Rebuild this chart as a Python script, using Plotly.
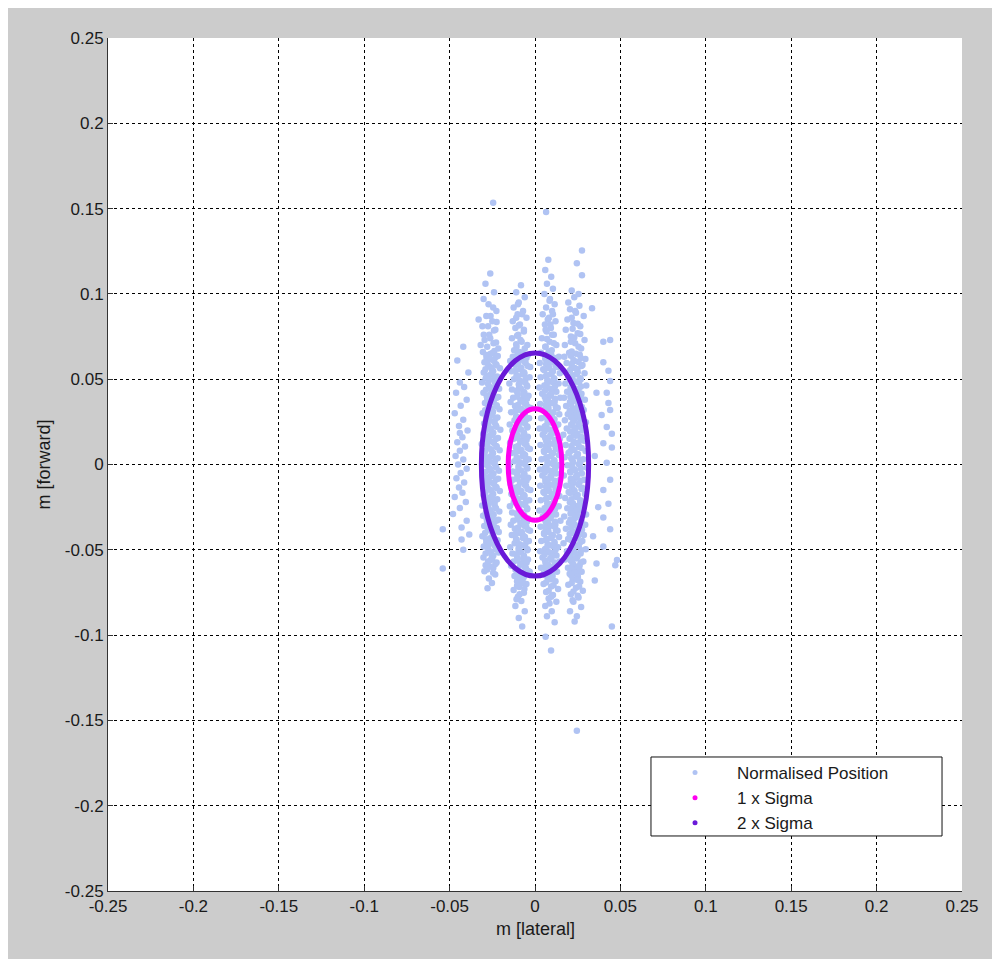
import plotly.graph_objects as go

# ---------------- data ----------------
tick_vals = [-0.25, -0.2, -0.15, -0.1, -0.05, 0, 0.05, 0.1, 0.15, 0.2, 0.25]
tick_text = ["-0.25", "-0.2", "-0.15", "-0.1", "-0.05", "0", "0.05", "0.1", "0.15", "0.2", "0.25"]

sigma_lateral = 0.0157
sigma_forward = 0.0327
sigma_multiples = [1, 2]
sigma_names = ["1 x Sigma", "2 x Sigma"]

col_a = [
    (-0.0262, 0.112), (-0.0290, 0.106), (-0.0240, 0.101), (-0.0301, 0.097), (-0.0272, 0.094), (-0.0226, 0.090),
    (-0.0285, 0.087), (-0.0250, 0.084), (-0.0308, 0.081), (-0.0232, 0.079), (-0.0268, 0.076), (-0.0295, 0.073),
    (-0.0243, 0.071), (-0.0215, 0.068), (-0.0330, 0.085), (-0.0318, 0.070),
    (-0.0305, 0.0660), (-0.0262, 0.0648), (-0.0218, 0.0636), (-0.0284, 0.0624), (-0.0240, 0.0612), (-0.0296, 0.0600), (-0.0228, 0.0588), (-0.0271, 0.0576), (-0.0205, 0.0564), (-0.0250, 0.0552),
    (-0.0300, 0.0540), (-0.0258, 0.0528), (-0.0222, 0.0516), (-0.0289, 0.0504), (-0.0236, 0.0492), (-0.0310, 0.0480), (-0.0231, 0.0468), (-0.0268, 0.0456), (-0.0210, 0.0444), (-0.0252, 0.0432),
    (-0.0302, 0.0420), (-0.0265, 0.0408), (-0.0215, 0.0396), (-0.0280, 0.0384), (-0.0244, 0.0372), (-0.0293, 0.0360), (-0.0225, 0.0348), (-0.0274, 0.0336), (-0.0208, 0.0324), (-0.0247, 0.0312),
    (-0.0307, 0.0300), (-0.0260, 0.0288), (-0.0220, 0.0276), (-0.0286, 0.0264), (-0.0238, 0.0252), (-0.0298, 0.0240), (-0.0229, 0.0228), (-0.0270, 0.0216), (-0.0203, 0.0204), (-0.0254, 0.0192),
    (-0.0303, 0.0180), (-0.0263, 0.0168), (-0.0217, 0.0156), (-0.0282, 0.0144), (-0.0242, 0.0132), (-0.0312, 0.0120), (-0.0226, 0.0108), (-0.0276, 0.0096), (-0.0207, 0.0084), (-0.0249, 0.0072),
    (-0.0299, 0.0060), (-0.0259, 0.0048), (-0.0219, 0.0036), (-0.0287, 0.0024), (-0.0237, 0.0012), (-0.0304, 0.0000), (-0.0230, -0.0012), (-0.0267, -0.0024), (-0.0211, -0.0036), (-0.0253, -0.0048),
    (-0.0306, -0.0060), (-0.0264, -0.0072), (-0.0216, -0.0084), (-0.0283, -0.0096), (-0.0241, -0.0108), (-0.0295, -0.0120), (-0.0227, -0.0132), (-0.0273, -0.0144), (-0.0206, -0.0156), (-0.0248, -0.0168),
    (-0.0301, -0.0180), (-0.0261, -0.0192), (-0.0221, -0.0204), (-0.0288, -0.0216), (-0.0239, -0.0228), (-0.0309, -0.0240), (-0.0232, -0.0252), (-0.0269, -0.0264), (-0.0209, -0.0276), (-0.0251, -0.0288),
    (-0.0304, -0.0300), (-0.0257, -0.0312), (-0.0214, -0.0324), (-0.0281, -0.0336), (-0.0245, -0.0348), (-0.0297, -0.0360), (-0.0224, -0.0372), (-0.0275, -0.0384), (-0.0212, -0.0396), (-0.0246, -0.0408),
    (-0.0308, -0.0420), (-0.0263, -0.0432), (-0.0219, -0.0444), (-0.0285, -0.0456), (-0.0235, -0.0468), (-0.0300, -0.0480), (-0.0228, -0.0492), (-0.0272, -0.0504), (-0.0213, -0.0516), (-0.0255, -0.0528),
    (-0.0302, -0.0545), (-0.0260, -0.0560), (-0.0225, -0.0575), (-0.0289, -0.0590), (-0.0244, -0.0605), (-0.0296, -0.0625), (-0.0233, -0.0645), (-0.0270, -0.0668), (-0.0252, -0.0695), (-0.0278, -0.0725),
]

col_a_2 = [
    (-0.0238, 0.0665), (-0.0280, 0.0690), (-0.0228, 0.0715), (-0.0262, 0.0740), (-0.0300, 0.0760), (-0.0240, 0.0785),
    (-0.0275, 0.0810), (-0.0225, 0.0835), (-0.0260, 0.0870), (-0.0245, 0.0920),
    (-0.0250, 0.0654), (-0.0285, 0.0642), (-0.0230, 0.0630), (-0.0265, 0.0618), (-0.0240, 0.0606), (-0.0278, 0.0594), (-0.0225, 0.0582), (-0.0258, 0.0570), (-0.0290, 0.0558), (-0.0245, 0.0546),
    (-0.0253, 0.0534), (-0.0281, 0.0522), (-0.0233, 0.0510), (-0.0268, 0.0498), (-0.0237, 0.0486), (-0.0275, 0.0474), (-0.0228, 0.0462), (-0.0261, 0.0450), (-0.0287, 0.0438), (-0.0242, 0.0426),
    (-0.0248, 0.0414), (-0.0283, 0.0402), (-0.0227, 0.0390), (-0.0263, 0.0378), (-0.0243, 0.0366), (-0.0280, 0.0354), (-0.0223, 0.0342), (-0.0256, 0.0330), (-0.0292, 0.0318), (-0.0247, 0.0306),
    (-0.0251, 0.0294), (-0.0286, 0.0282), (-0.0231, 0.0270), (-0.0266, 0.0258), (-0.0238, 0.0246), (-0.0276, 0.0234), (-0.0226, 0.0222), (-0.0259, 0.0210), (-0.0289, 0.0198), (-0.0244, 0.0186),
    (-0.0249, 0.0174), (-0.0282, 0.0162), (-0.0229, 0.0150), (-0.0264, 0.0138), (-0.0241, 0.0126), (-0.0279, 0.0114), (-0.0224, 0.0102), (-0.0257, 0.0090), (-0.0291, 0.0078), (-0.0246, 0.0066),
    (-0.0252, 0.0054), (-0.0284, 0.0042), (-0.0232, 0.0030), (-0.0267, 0.0018), (-0.0239, 0.0006), (-0.0277, -0.0006), (-0.0227, -0.0018), (-0.0260, -0.0030), (-0.0288, -0.0042), (-0.0243, -0.0054),
    (-0.0250, -0.0066), (-0.0285, -0.0078), (-0.0230, -0.0090), (-0.0265, -0.0102), (-0.0240, -0.0114), (-0.0278, -0.0126), (-0.0225, -0.0138), (-0.0258, -0.0150), (-0.0290, -0.0162), (-0.0245, -0.0174),
    (-0.0253, -0.0186), (-0.0281, -0.0198), (-0.0233, -0.0210), (-0.0268, -0.0222), (-0.0237, -0.0234), (-0.0275, -0.0246), (-0.0228, -0.0258), (-0.0261, -0.0270), (-0.0287, -0.0282), (-0.0242, -0.0294),
    (-0.0248, -0.0306), (-0.0283, -0.0318), (-0.0227, -0.0330), (-0.0263, -0.0342), (-0.0243, -0.0354), (-0.0280, -0.0366), (-0.0223, -0.0378), (-0.0256, -0.0390), (-0.0292, -0.0402), (-0.0247, -0.0414),
    (-0.0251, -0.0426), (-0.0286, -0.0438), (-0.0231, -0.0450), (-0.0266, -0.0462), (-0.0238, -0.0474), (-0.0276, -0.0486), (-0.0226, -0.0498), (-0.0259, -0.0510), (-0.0289, -0.0522), (-0.0244, -0.0534),
    (-0.0250, -0.0552), (-0.0275, -0.0568), (-0.0232, -0.0583), (-0.0262, -0.0598), (-0.0280, -0.0615), (-0.0245, -0.0635),
]

col_b = [
    (-0.0082, 0.105), (-0.0110, 0.101), (-0.0060, 0.098), (-0.0095, 0.095), (-0.0125, 0.092), (-0.0070, 0.090),
    (-0.0102, 0.088), (-0.0050, 0.086), (-0.0130, 0.084), (-0.0088, 0.082), (-0.0115, 0.080), (-0.0065, 0.078),
    (-0.0098, 0.076), (-0.0135, 0.074), (-0.0078, 0.072), (-0.0045, 0.070), (-0.0108, 0.069), (-0.0122, 0.067),
    (-0.0100, 0.0655), (-0.0040, 0.0643), (-0.0130, 0.0631), (-0.0070, 0.0619), (-0.0145, 0.0607), (-0.0055, 0.0595), (-0.0115, 0.0583), (-0.0028, 0.0571), (-0.0085, 0.0559), (-0.0138, 0.0547),
    (-0.0062, 0.0535), (-0.0108, 0.0523), (-0.0032, 0.0511), (-0.0123, 0.0499), (-0.0078, 0.0487), (-0.0150, 0.0475), (-0.0047, 0.0463), (-0.0093, 0.0451), (-0.0135, 0.0439), (-0.0068, 0.0427),
    (-0.0102, 0.0415), (-0.0038, 0.0403), (-0.0128, 0.0391), (-0.0073, 0.0379), (-0.0143, 0.0367), (-0.0052, 0.0355), (-0.0117, 0.0343), (-0.0025, 0.0331), (-0.0087, 0.0319), (-0.0140, 0.0307),
    (-0.0060, 0.0295), (-0.0110, 0.0283), (-0.0035, 0.0271), (-0.0120, 0.0259), (-0.0080, 0.0247), (-0.0148, 0.0235), (-0.0045, 0.0223), (-0.0095, 0.0211), (-0.0133, 0.0199), (-0.0065, 0.0187),
    (-0.0105, 0.0175), (-0.0042, 0.0163), (-0.0126, 0.0151), (-0.0075, 0.0139), (-0.0146, 0.0127), (-0.0050, 0.0115), (-0.0113, 0.0103), (-0.0030, 0.0091), (-0.0090, 0.0079), (-0.0137, 0.0067),
    (-0.0058, 0.0055), (-0.0107, 0.0043), (-0.0037, 0.0031), (-0.0121, 0.0019), (-0.0082, 0.0007), (-0.0151, -0.0005), (-0.0048, -0.0017), (-0.0097, -0.0029), (-0.0131, -0.0041), (-0.0063, -0.0053),
    (-0.0103, -0.0065), (-0.0040, -0.0077), (-0.0129, -0.0089), (-0.0072, -0.0101), (-0.0144, -0.0113), (-0.0053, -0.0125), (-0.0116, -0.0137), (-0.0027, -0.0149), (-0.0086, -0.0161), (-0.0139, -0.0173),
    (-0.0061, -0.0185), (-0.0109, -0.0197), (-0.0034, -0.0209), (-0.0124, -0.0221), (-0.0079, -0.0233), (-0.0147, -0.0245), (-0.0046, -0.0257), (-0.0094, -0.0269), (-0.0134, -0.0281), (-0.0067, -0.0293),
    (-0.0101, -0.0305), (-0.0039, -0.0317), (-0.0127, -0.0329), (-0.0074, -0.0341), (-0.0142, -0.0353), (-0.0051, -0.0365), (-0.0118, -0.0377), (-0.0029, -0.0389), (-0.0088, -0.0401), (-0.0136, -0.0413),
    (-0.0059, -0.0425), (-0.0111, -0.0437), (-0.0036, -0.0449), (-0.0119, -0.0461), (-0.0081, -0.0473), (-0.0145, -0.0485), (-0.0044, -0.0497), (-0.0096, -0.0509), (-0.0132, -0.0521), (-0.0066, -0.0533),
    (-0.0104, -0.0545), (-0.0041, -0.0557), (-0.0125, -0.0569), (-0.0076, -0.0581), (-0.0140, -0.0593), (-0.0054, -0.0605), (-0.0114, -0.0617), (-0.0031, -0.0629), (-0.0089, -0.0641), (-0.0120, -0.0653),
    (-0.0070, -0.0668), (-0.0105, -0.0685), (-0.0050, -0.0700), (-0.0092, -0.0718), (-0.0125, -0.0735), (-0.0065, -0.0752),
    (-0.0100, -0.0775), (-0.0080, -0.0800), (-0.0115, -0.0830), (-0.0060, -0.0860), (-0.0095, -0.0900), (-0.0075, -0.0950),
]

col_b_2 = [
    (-0.0090, 0.0660), (-0.0060, 0.0680), (-0.0110, 0.0705), (-0.0085, 0.0730), (-0.0105, 0.0755), (-0.0065, 0.0790),
    (-0.0095, 0.0815), (-0.0110, 0.0860), (-0.0075, 0.0880), (-0.0100, 0.0940),
    (-0.0070, 0.0649), (-0.0105, 0.0637), (-0.0050, 0.0625), (-0.0088, 0.0613), (-0.0060, 0.0601), (-0.0098, 0.0589), (-0.0043, 0.0577), (-0.0080, 0.0565), (-0.0112, 0.0553), (-0.0065, 0.0541),
    (-0.0073, 0.0529), (-0.0101, 0.0517), (-0.0053, 0.0505), (-0.0091, 0.0493), (-0.0057, 0.0481), (-0.0095, 0.0469), (-0.0046, 0.0457), (-0.0083, 0.0445), (-0.0109, 0.0433), (-0.0062, 0.0421),
    (-0.0068, 0.0409), (-0.0103, 0.0397), (-0.0047, 0.0385), (-0.0085, 0.0373), (-0.0063, 0.0361), (-0.0100, 0.0349), (-0.0041, 0.0337), (-0.0077, 0.0325), (-0.0114, 0.0313), (-0.0067, 0.0301),
    (-0.0071, 0.0289), (-0.0107, 0.0277), (-0.0051, 0.0265), (-0.0090, 0.0253), (-0.0058, 0.0241), (-0.0096, 0.0229), (-0.0045, 0.0217), (-0.0082, 0.0205), (-0.0110, 0.0193), (-0.0064, 0.0181),
    (-0.0069, 0.0169), (-0.0102, 0.0157), (-0.0049, 0.0145), (-0.0086, 0.0133), (-0.0061, 0.0121), (-0.0099, 0.0109), (-0.0042, 0.0097), (-0.0079, 0.0085), (-0.0113, 0.0073), (-0.0066, 0.0061),
    (-0.0072, 0.0049), (-0.0104, 0.0037), (-0.0052, 0.0025), (-0.0089, 0.0013), (-0.0059, 0.0001), (-0.0097, -0.0011), (-0.0044, -0.0023), (-0.0081, -0.0035), (-0.0111, -0.0047), (-0.0063, -0.0059),
    (-0.0070, -0.0071), (-0.0105, -0.0083), (-0.0050, -0.0095), (-0.0088, -0.0107), (-0.0060, -0.0119), (-0.0098, -0.0131), (-0.0043, -0.0143), (-0.0080, -0.0155), (-0.0112, -0.0167), (-0.0065, -0.0179),
    (-0.0073, -0.0191), (-0.0101, -0.0203), (-0.0053, -0.0215), (-0.0091, -0.0227), (-0.0057, -0.0239), (-0.0095, -0.0251), (-0.0046, -0.0263), (-0.0083, -0.0275), (-0.0109, -0.0287), (-0.0062, -0.0299),
    (-0.0068, -0.0311), (-0.0103, -0.0323), (-0.0047, -0.0335), (-0.0085, -0.0347), (-0.0063, -0.0359), (-0.0100, -0.0371), (-0.0041, -0.0383), (-0.0077, -0.0395), (-0.0114, -0.0407), (-0.0067, -0.0419),
    (-0.0071, -0.0431), (-0.0107, -0.0443), (-0.0051, -0.0455), (-0.0090, -0.0467), (-0.0058, -0.0479), (-0.0096, -0.0491), (-0.0045, -0.0503), (-0.0082, -0.0515), (-0.0110, -0.0527), (-0.0064, -0.0539),
    (-0.0069, -0.0551), (-0.0102, -0.0563), (-0.0049, -0.0575), (-0.0086, -0.0587), (-0.0061, -0.0599), (-0.0099, -0.0611), (-0.0042, -0.0623), (-0.0079, -0.0635), (-0.0108, -0.0647), (-0.0066, -0.0660),
    (-0.0100, -0.0672), (-0.0075, -0.0695), (-0.0105, -0.0710), (-0.0062, -0.0730), (-0.0090, -0.0760), (-0.0108, -0.0790),
]

col_c = [
    (0.0078, 0.120), (0.0060, 0.114), (0.0095, 0.110), (0.0070, 0.106), (0.0105, 0.103), (0.0055, 0.100), (0.0088, 0.097),
    (0.0115, 0.094), (0.0065, 0.092), (0.0100, 0.090), (0.0045, 0.088), (0.0082, 0.086), (0.0120, 0.084), (0.0058, 0.082),
    (0.0093, 0.080), (0.0068, 0.078), (0.0110, 0.076), (0.0040, 0.074), (0.0085, 0.072), (0.0125, 0.070), (0.0062, 0.069), (0.0098, 0.067),
    (0.0035, 0.0655), (0.0095, 0.0643), (0.0140, 0.0631), (0.0060, 0.0619), (0.0118, 0.0607), (0.0028, 0.0595), (0.0080, 0.0583), (0.0130, 0.0571), (0.0048, 0.0559), (0.0105, 0.0547),
    (0.0145, 0.0535), (0.0070, 0.0523), (0.0033, 0.0511), (0.0112, 0.0499), (0.0088, 0.0487), (0.0138, 0.0475), (0.0055, 0.0463), (0.0025, 0.0451), (0.0100, 0.0439), (0.0125, 0.0427),
    (0.0042, 0.0415), (0.0092, 0.0403), (0.0148, 0.0391), (0.0063, 0.0379), (0.0115, 0.0367), (0.0030, 0.0355), (0.0078, 0.0343), (0.0133, 0.0331), (0.0050, 0.0319), (0.0108, 0.0307),
    (0.0142, 0.0295), (0.0068, 0.0283), (0.0036, 0.0271), (0.0110, 0.0259), (0.0085, 0.0247), (0.0136, 0.0235), (0.0057, 0.0223), (0.0027, 0.0211), (0.0097, 0.0199), (0.0122, 0.0187),
    (0.0045, 0.0175), (0.0090, 0.0163), (0.0146, 0.0151), (0.0065, 0.0139), (0.0117, 0.0127), (0.0032, 0.0115), (0.0076, 0.0103), (0.0131, 0.0091), (0.0052, 0.0079), (0.0106, 0.0067),
    (0.0140, 0.0055), (0.0072, 0.0043), (0.0038, 0.0031), (0.0113, 0.0019), (0.0083, 0.0007), (0.0137, -0.0005), (0.0059, -0.0017), (0.0029, -0.0029), (0.0099, -0.0041), (0.0124, -0.0053),
    (0.0043, -0.0065), (0.0093, -0.0077), (0.0147, -0.0089), (0.0061, -0.0101), (0.0116, -0.0113), (0.0031, -0.0125), (0.0079, -0.0137), (0.0134, -0.0149), (0.0049, -0.0161), (0.0107, -0.0173),
    (0.0143, -0.0185), (0.0069, -0.0197), (0.0034, -0.0209), (0.0111, -0.0221), (0.0087, -0.0233), (0.0139, -0.0245), (0.0056, -0.0257), (0.0026, -0.0269), (0.0101, -0.0281), (0.0123, -0.0293),
    (0.0046, -0.0305), (0.0091, -0.0317), (0.0149, -0.0329), (0.0064, -0.0341), (0.0119, -0.0353), (0.0033, -0.0365), (0.0077, -0.0377), (0.0132, -0.0389), (0.0053, -0.0401), (0.0104, -0.0413),
    (0.0141, -0.0425), (0.0071, -0.0437), (0.0037, -0.0449), (0.0114, -0.0461), (0.0084, -0.0473), (0.0135, -0.0485), (0.0058, -0.0497), (0.0030, -0.0509), (0.0096, -0.0521), (0.0126, -0.0533),
    (0.0044, -0.0545), (0.0094, -0.0557), (0.0144, -0.0569), (0.0062, -0.0581), (0.0118, -0.0593), (0.0035, -0.0605), (0.0081, -0.0617), (0.0129, -0.0629), (0.0051, -0.0641), (0.0103, -0.0653),
    (0.0075, -0.0668), (0.0120, -0.0685), (0.0050, -0.0700), (0.0095, -0.0715), (0.0135, -0.0730), (0.0065, -0.0748), (0.0105, -0.0765),
    (0.0080, -0.0785), (0.0125, -0.0805), (0.0060, -0.0830), (0.0098, -0.0860), (0.0070, -0.0890), (0.0115, -0.0925), (0.0062, -0.1010), (0.0094, -0.1090),
]

col_c_2 = [
    (0.0080, 0.0662), (0.0060, 0.0690), (0.0110, 0.0710), (0.0070, 0.0735), (0.0100, 0.0760), (0.0062, 0.0790),
    (0.0090, 0.0820), (0.0075, 0.0850), (0.0105, 0.0880), (0.0085, 0.0960),
    (0.0090, 0.0649), (0.0060, 0.0637), (0.0115, 0.0625), (0.0075, 0.0613), (0.0105, 0.0601), (0.0065, 0.0589), (0.0120, 0.0577), (0.0082, 0.0565), (0.0055, 0.0553), (0.0100, 0.0541),
    (0.0093, 0.0529), (0.0063, 0.0517), (0.0112, 0.0505), (0.0072, 0.0493), (0.0108, 0.0481), (0.0068, 0.0469), (0.0117, 0.0457), (0.0085, 0.0445), (0.0058, 0.0433), (0.0097, 0.0421),
    (0.0087, 0.0409), (0.0057, 0.0397), (0.0118, 0.0385), (0.0078, 0.0373), (0.0102, 0.0361), (0.0062, 0.0349), (0.0122, 0.0337), (0.0079, 0.0325), (0.0053, 0.0313), (0.0103, 0.0301),
    (0.0091, 0.0289), (0.0061, 0.0277), (0.0114, 0.0265), (0.0074, 0.0253), (0.0106, 0.0241), (0.0066, 0.0229), (0.0119, 0.0217), (0.0083, 0.0205), (0.0056, 0.0193), (0.0099, 0.0181),
    (0.0089, 0.0169), (0.0059, 0.0157), (0.0116, 0.0145), (0.0076, 0.0133), (0.0104, 0.0121), (0.0064, 0.0109), (0.0121, 0.0097), (0.0081, 0.0085), (0.0054, 0.0073), (0.0101, 0.0061),
    (0.0092, 0.0049), (0.0062, 0.0037), (0.0113, 0.0025), (0.0073, 0.0013), (0.0107, 0.0001), (0.0067, -0.0011), (0.0118, -0.0023), (0.0084, -0.0035), (0.0057, -0.0047), (0.0098, -0.0059),
    (0.0090, -0.0071), (0.0060, -0.0083), (0.0115, -0.0095), (0.0075, -0.0107), (0.0105, -0.0119), (0.0065, -0.0131), (0.0120, -0.0143), (0.0082, -0.0155), (0.0055, -0.0167), (0.0100, -0.0179),
    (0.0093, -0.0191), (0.0063, -0.0203), (0.0112, -0.0215), (0.0072, -0.0227), (0.0108, -0.0239), (0.0068, -0.0251), (0.0117, -0.0263), (0.0085, -0.0275), (0.0058, -0.0287), (0.0097, -0.0299),
    (0.0087, -0.0311), (0.0057, -0.0323), (0.0118, -0.0335), (0.0078, -0.0347), (0.0102, -0.0359), (0.0062, -0.0371), (0.0122, -0.0383), (0.0079, -0.0395), (0.0053, -0.0407), (0.0103, -0.0419),
    (0.0091, -0.0431), (0.0061, -0.0443), (0.0114, -0.0455), (0.0074, -0.0467), (0.0106, -0.0479), (0.0066, -0.0491), (0.0119, -0.0503), (0.0083, -0.0515), (0.0056, -0.0527), (0.0099, -0.0539),
    (0.0089, -0.0551), (0.0059, -0.0563), (0.0116, -0.0575), (0.0076, -0.0587), (0.0104, -0.0599), (0.0064, -0.0611), (0.0112, -0.0623), (0.0081, -0.0635), (0.0058, -0.0647), (0.0100, -0.0660),
    (0.0090, -0.0672), (0.0065, -0.0692), (0.0108, -0.0708), (0.0080, -0.0740), (0.0095, -0.0775), (0.0085, -0.0815),
]

col_d = [
    (0.0275, 0.1255), (0.0245, 0.1180), (0.0275, 0.1110), (0.0215, 0.1020), (0.0230, 0.0980), (0.0195, 0.0950), (0.0260, 0.0930),
    (0.0205, 0.0910), (0.0240, 0.0890), (0.0285, 0.0870), (0.0190, 0.0850), (0.0225, 0.0830), (0.0265, 0.0810), (0.0180, 0.0790),
    (0.0250, 0.0770), (0.0210, 0.0750), (0.0290, 0.0730), (0.0235, 0.0710), (0.0175, 0.0700), (0.0270, 0.0680),
    (0.0200, 0.0655), (0.0262, 0.0643), (0.0172, 0.0631), (0.0295, 0.0619), (0.0230, 0.0607), (0.0185, 0.0595), (0.0278, 0.0583), (0.0215, 0.0571), (0.0248, 0.0559), (0.0168, 0.0547),
    (0.0290, 0.0535), (0.0222, 0.0523), (0.0195, 0.0511), (0.0268, 0.0499), (0.0240, 0.0487), (0.0178, 0.0475), (0.0300, 0.0463), (0.0208, 0.0451), (0.0255, 0.0439), (0.0188, 0.0427),
    (0.0272, 0.0415), (0.0228, 0.0403), (0.0170, 0.0391), (0.0292, 0.0379), (0.0205, 0.0367), (0.0260, 0.0355), (0.0182, 0.0343), (0.0245, 0.0331), (0.0285, 0.0319), (0.0218, 0.0307),
    (0.0192, 0.0295), (0.0265, 0.0283), (0.0235, 0.0271), (0.0175, 0.0259), (0.0298, 0.0247), (0.0212, 0.0235), (0.0252, 0.0223), (0.0186, 0.0211), (0.0280, 0.0199), (0.0225, 0.0187),
    (0.0166, 0.0175), (0.0270, 0.0163), (0.0202, 0.0151), (0.0288, 0.0139), (0.0238, 0.0127), (0.0180, 0.0115), (0.0258, 0.0103), (0.0214, 0.0091), (0.0296, 0.0079), (0.0196, 0.0067),
    (0.0250, 0.0055), (0.0174, 0.0043), (0.0282, 0.0031), (0.0220, 0.0019), (0.0264, 0.0007), (0.0190, -0.0005), (0.0302, -0.0017), (0.0232, -0.0029), (0.0206, -0.0041), (0.0274, -0.0053),
    (0.0169, -0.0065), (0.0244, -0.0077), (0.0289, -0.0089), (0.0210, -0.0101), (0.0256, -0.0113), (0.0183, -0.0125), (0.0276, -0.0137), (0.0226, -0.0149), (0.0197, -0.0161), (0.0293, -0.0173),
    (0.0236, -0.0185), (0.0177, -0.0197), (0.0266, -0.0209), (0.0204, -0.0221), (0.0284, -0.0233), (0.0242, -0.0245), (0.0189, -0.0257), (0.0259, -0.0269), (0.0216, -0.0281), (0.0299, -0.0293),
    (0.0171, -0.0305), (0.0229, -0.0317), (0.0271, -0.0329), (0.0199, -0.0341), (0.0294, -0.0353), (0.0247, -0.0365), (0.0181, -0.0377), (0.0263, -0.0389), (0.0213, -0.0401), (0.0286, -0.0413),
    (0.0239, -0.0425), (0.0194, -0.0437), (0.0277, -0.0449), (0.0167, -0.0461), (0.0253, -0.0473), (0.0223, -0.0485), (0.0297, -0.0497), (0.0187, -0.0509), (0.0267, -0.0521), (0.0209, -0.0533),
    (0.0245, -0.0545), (0.0176, -0.0557), (0.0283, -0.0569), (0.0219, -0.0581), (0.0261, -0.0593), (0.0193, -0.0605), (0.0234, -0.0617), (0.0273, -0.0629), (0.0203, -0.0641), (0.0250, -0.0653),
    (0.0220, -0.0670), (0.0265, -0.0688), (0.0195, -0.0705), (0.0240, -0.0722), (0.0280, -0.0740), (0.0210, -0.0760),
    (0.0255, -0.0780), (0.0225, -0.0805), (0.0270, -0.0835), (0.0205, -0.0860), (0.0245, -0.0890), (0.0232, -0.0920),
]

col_d_2 = [
    (0.0215, 0.0662), (0.0255, 0.0690), (0.0210, 0.0720), (0.0230, 0.0745), (0.0265, 0.0765), (0.0220, 0.0795),
    (0.0250, 0.0825), (0.0215, 0.0860), (0.0235, 0.0900), (0.0255, 0.1000),
    (0.0240, 0.0649), (0.0210, 0.0637), (0.0268, 0.0625), (0.0225, 0.0613), (0.0255, 0.0601), (0.0215, 0.0589), (0.0272, 0.0577), (0.0232, 0.0565), (0.0205, 0.0553), (0.0250, 0.0541),
    (0.0243, 0.0529), (0.0213, 0.0517), (0.0265, 0.0505), (0.0222, 0.0493), (0.0258, 0.0481), (0.0218, 0.0469), (0.0269, 0.0457), (0.0235, 0.0445), (0.0208, 0.0433), (0.0247, 0.0421),
    (0.0237, 0.0409), (0.0207, 0.0397), (0.0271, 0.0385), (0.0228, 0.0373), (0.0252, 0.0361), (0.0212, 0.0349), (0.0275, 0.0337), (0.0229, 0.0325), (0.0203, 0.0313), (0.0253, 0.0301),
    (0.0241, 0.0289), (0.0211, 0.0277), (0.0266, 0.0265), (0.0224, 0.0253), (0.0256, 0.0241), (0.0216, 0.0229), (0.0270, 0.0217), (0.0233, 0.0205), (0.0206, 0.0193), (0.0249, 0.0181),
    (0.0239, 0.0169), (0.0209, 0.0157), (0.0267, 0.0145), (0.0226, 0.0133), (0.0254, 0.0121), (0.0214, 0.0109), (0.0273, 0.0097), (0.0231, 0.0085), (0.0204, 0.0073), (0.0251, 0.0061),
    (0.0242, 0.0049), (0.0212, 0.0037), (0.0264, 0.0025), (0.0223, 0.0013), (0.0257, 0.0001), (0.0217, -0.0011), (0.0268, -0.0023), (0.0234, -0.0035), (0.0207, -0.0047), (0.0248, -0.0059),
    (0.0240, -0.0071), (0.0210, -0.0083), (0.0268, -0.0095), (0.0225, -0.0107), (0.0255, -0.0119), (0.0215, -0.0131), (0.0272, -0.0143), (0.0232, -0.0155), (0.0205, -0.0167), (0.0250, -0.0179),
    (0.0243, -0.0191), (0.0213, -0.0203), (0.0265, -0.0215), (0.0222, -0.0227), (0.0258, -0.0239), (0.0218, -0.0251), (0.0269, -0.0263), (0.0235, -0.0275), (0.0208, -0.0287), (0.0247, -0.0299),
    (0.0237, -0.0311), (0.0207, -0.0323), (0.0271, -0.0335), (0.0228, -0.0347), (0.0252, -0.0359), (0.0212, -0.0371), (0.0275, -0.0383), (0.0229, -0.0395), (0.0203, -0.0407), (0.0253, -0.0419),
    (0.0241, -0.0431), (0.0211, -0.0443), (0.0266, -0.0455), (0.0224, -0.0467), (0.0256, -0.0479), (0.0216, -0.0491), (0.0270, -0.0503), (0.0233, -0.0515), (0.0206, -0.0527), (0.0249, -0.0539),
    (0.0239, -0.0551), (0.0209, -0.0563), (0.0267, -0.0575), (0.0226, -0.0587), (0.0254, -0.0599), (0.0214, -0.0611), (0.0262, -0.0623), (0.0231, -0.0635), (0.0210, -0.0647), (0.0251, -0.0660),
    (0.0245, -0.0675), (0.0215, -0.0695), (0.0258, -0.0715), (0.0225, -0.0745), (0.0250, -0.0770), (0.0220, -0.0795),
]

col_left = [
    (-0.0420, 0.0690), (-0.0455, 0.0610), (-0.0390, 0.0540), (-0.0440, 0.0480), (-0.0415, 0.0455), (-0.0462, 0.0420),
    (-0.0400, 0.0380), (-0.0435, 0.0345), (-0.0470, 0.0300), (-0.0420, 0.0262), (-0.0445, 0.0225), (-0.0395, 0.0200),
    (-0.0440, 0.0185), (-0.0425, 0.0160), (-0.0455, 0.0130), (-0.0410, 0.0105), (-0.0440, 0.0080), (-0.0465, 0.0050),
    (-0.0420, 0.0030), (-0.0450, 0.0000), (-0.0400, -0.0025), (-0.0435, -0.0050), (-0.0460, -0.0080), (-0.0415, -0.0105),
    (-0.0445, -0.0135), (-0.0425, -0.0165), (-0.0470, -0.0190), (-0.0405, -0.0220), (-0.0440, -0.0255), (-0.0400, -0.0330),
    (-0.0430, -0.0370), (-0.0540, -0.0380), (-0.0430, -0.0440), (-0.0420, -0.0500), (-0.0540, -0.0610), (-0.0480, -0.0290),
    (-0.0385, -0.0410),
]

col_right = [
    (0.0400, 0.0720), (0.0440, 0.0730), (0.0334, 0.0916), (0.0400, 0.0600), (0.0430, 0.0550), (0.0440, 0.0490),
    (0.0420, 0.0420), (0.0360, 0.0420), (0.0430, 0.0360), (0.0440, 0.0320), (0.0390, 0.0290), (0.0420, 0.0220),
    (0.0450, 0.0180), (0.0400, 0.0125), (0.0450, 0.0100), (0.0420, 0.0010), (0.0440, -0.0090), (0.0400, -0.0150),
    (0.0430, -0.0230), (0.0400, -0.0310), (0.0440, -0.0380), (0.0400, -0.0480), (0.0470, -0.0590), (0.0360, -0.0580),
    (0.0450, -0.0950), (0.0350, -0.0680), (0.0480, -0.0560), (0.0370, -0.0250), (0.0350, 0.0050), (0.0340, -0.0420),
]

outliers = [(-0.0245, 0.1535), (0.0065, 0.1480), (0.0245, -0.1560)]

# ---------------- figure ----------------
point_color = "#b0c3f3"
sigma_colors = ["#ff00f0", "#6a1ad8"]
font_family = "Liberation Sans, Arial, sans-serif"

all_points = (col_a + col_a_2 + col_b + col_b_2 + col_c + col_c_2 + col_d + col_d_2
              + col_left + col_right + outliers)
px = [p[0] for p in all_points]
py = [p[1] for p in all_points]

fig = go.Figure()
fig.add_trace(go.Scatter(
    x=px, y=py, mode="markers", showlegend=False, hoverinfo="skip",
    marker=dict(size=6.5, color=point_color, line=dict(width=0)),
))

# legend entries (dot markers, as in the original)
fig.add_trace(go.Scatter(x=[None], y=[None], mode="markers", name="Normalised Position",
                         marker=dict(size=5, color=point_color)))
for name, col in zip(sigma_names, sigma_colors):
    fig.add_trace(go.Scatter(x=[None], y=[None], mode="markers", name=name,
                             marker=dict(size=5, color=col)))

shapes = []
for k, col in zip(sigma_multiples, sigma_colors):
    shapes.append(dict(type="circle", xref="x", yref="y",
                       x0=-k * sigma_lateral, x1=k * sigma_lateral,
                       y0=-k * sigma_forward, y1=k * sigma_forward,
                       line=dict(color=col, width=5), layer="above"))

# legend box
shapes.append(dict(type="rect", xref="paper", yref="paper",
                   x0=0.6358, x1=0.9766, y0=0.0645, y1=0.1571,
                   fillcolor="white", line=dict(color="#111111", width=1), layer="above"))

axis_common = dict(
    range=[-0.25, 0.25], tickmode="array", tickvals=tick_vals, ticktext=tick_text,
    showgrid=True, gridcolor="#000000", gridwidth=1, griddash="3px,3px",
    zeroline=False, showline=True, linecolor="#333333", linewidth=1, mirror=False,
    ticks="inside", ticklen=5, tickcolor="#333333", tickwidth=1,
    tickfont=dict(family=font_family, size=17, color="#1a1a1a"),
)

fig.update_layout(
    width=992, height=951,
    margin=dict(l=100, r=38, t=30, b=68),
    paper_bgcolor="#cccccc", plot_bgcolor="white",
    xaxis=dict(**axis_common),
    yaxis=dict(**axis_common),
    showlegend=True,
    legend=dict(x=0.6382, y=0.1594, xanchor="left", yanchor="top",
                bgcolor="rgba(0,0,0,0)", borderwidth=0, itemwidth=74,
                font=dict(family=font_family, size=17, color="#1a1a1a")),
    shapes=shapes,
    annotations=[
        dict(text="m [lateral]", xref="paper", yref="paper", x=0.5, y=-0.0445,
             xanchor="center", yanchor="middle", showarrow=False,
             font=dict(family=font_family, size=18, color="#1a1a1a")),
        dict(text="m [forward]", xref="paper", yref="paper", x=-0.075, y=0.5,
             xanchor="center", yanchor="middle", showarrow=False, textangle=-90,
             font=dict(family=font_family, size=18, color="#1a1a1a")),
    ],
)

fig.write_html("out.html")
